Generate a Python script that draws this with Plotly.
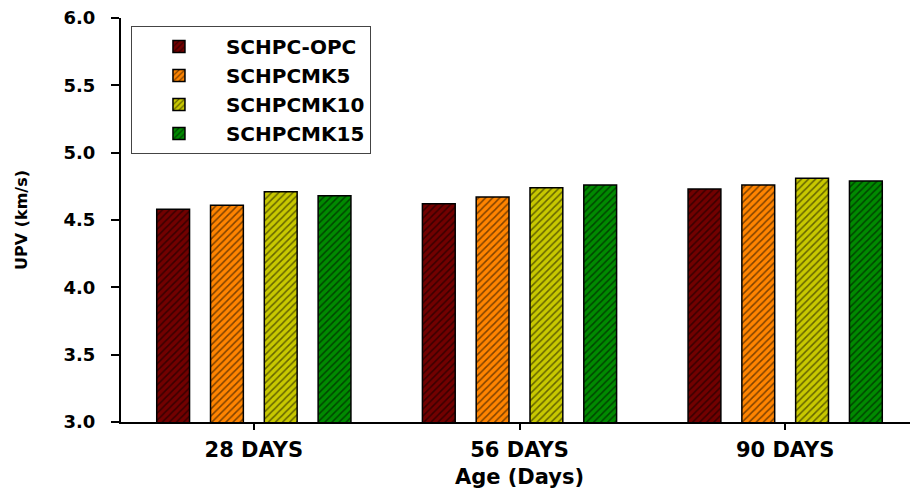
import plotly.graph_objects as go

categories = ["28 DAYS", "56 DAYS", "90 DAYS"]
series_names = ["SCHPC-OPC", "SCHPCMK5", "SCHPCMK10", "SCHPCMK15"]
opc = [4.58, 4.62, 4.73]
mk5 = [4.61, 4.67, 4.76]
mk10 = [4.71, 4.74, 4.81]
mk15 = [4.68, 4.76, 4.79]
colors = ["#720000", "#FF8400", "#C8C800", "#008A00"]

FONT = "DejaVu Sans, Verdana, sans-serif"

fig = go.Figure()
for name, vals, col in zip(series_names, [opc, mk5, mk10, mk15], colors):
    fig.add_trace(go.Bar(
        x=categories, y=vals, name=name,
        marker=dict(color=col,
                    line=dict(color="black", width=1.5),
                    pattern=dict(shape="/", fgcolor="black", bgcolor=col,
                                 size=5, solidity=0.3, fillmode="overlay")),
    ))

fig.update_layout(
    width=910, height=482,
    margin=dict(l=113, r=0, t=10, b=68),
    paper_bgcolor="white", plot_bgcolor="white",
    barmode="group", bargap=0.19, bargroupgap=0.39,
    font=dict(family=FONT, color="black"),
    showlegend=True,
    legend=dict(
        x=0.0125, y=0.98, xanchor="left", yanchor="top",
        bgcolor="white", bordercolor="#444444", borderwidth=1,
        font=dict(family=FONT, size=20, color="black", weight="bold"),
        itemwidth=84, tracegroupgap=0,
    ),
    xaxis=dict(
        range=[-0.5, 2.5],
        showline=True, linecolor="black", linewidth=2,
        ticks="outside", ticklen=6, tickwidth=1.5, tickcolor="black",
        tickfont=dict(family=FONT, size=21, color="black", weight="bold"),
        ticklabelstandoff=2,
        showgrid=False, zeroline=False,
        title=dict(text="Age (Days)", standoff=8,
                   font=dict(family=FONT, size=21, color="black", weight="bold")),
    ),
    yaxis=dict(
        range=[3, 6], dtick=0.5, tickformat=".1f",
        showline=True, linecolor="black", linewidth=2,
        ticks="outside", ticklen=8, tickwidth=1.5, tickcolor="black",
        tickfont=dict(family=FONT, size=18, color="black", weight="bold"),
        ticklabelstandoff=12, ticklabeloverflow="allow",
        showgrid=False, zeroline=False,
        title=dict(text="UPV (km/s)", standoff=32,
                   font=dict(family=FONT, size=16, color="black", weight="bold")),
    ),
)

fig.write_html("out.html")
